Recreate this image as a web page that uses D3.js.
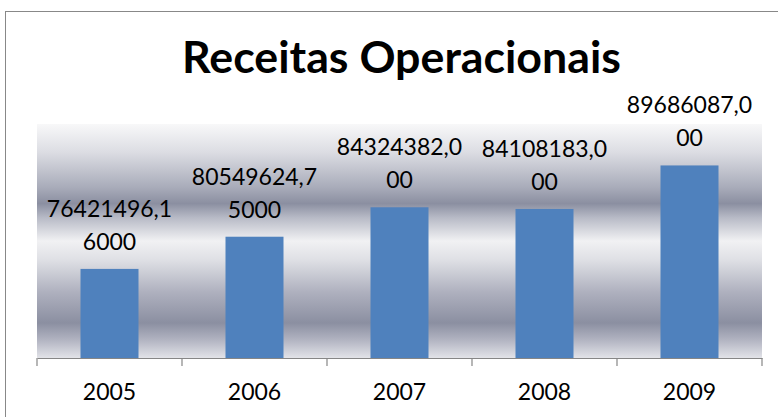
<!DOCTYPE html>
<html>
<head>
<meta charset="utf-8">
<script src="https://cdn.jsdelivr.net/npm/d3@7"></script>
<style>
  html, body { margin: 0; padding: 0; background: #fff; }
  svg { display: block; }
</style>
</head>
<body>
<svg id="chart" width="778" height="417"></svg>
<script>
const title = "Receitas Operacionais";
const categories = ["2005", "2006", "2007", "2008", "2009"];
const values = [76421496.16, 80549624.75, 84324382.0, 84108183.0, 89686087.0];
const valueLabels = ["76421496,16000", "80549624,75000", "84324382,000", "84108183,000", "89686087,000"];
const yDomain = [65000000, 95000000];

const svg = d3.select("#chart");
const W = 778, H = 417;
const plot = { left: 37, right: 762, top: 124, bottom: 358 };
const font = "Lato, 'Open Sans', sans-serif";

// chart frame
svg.append("rect").attr("x", 5.5).attr("y", 11.5).attr("width", 820).attr("height", 440)
  .attr("fill", "#fff").attr("stroke", "#888").attr("stroke-width", 1);

// gradient background
const defs = svg.append("defs");
const g = defs.append("linearGradient").attr("id", "bg").attr("x1", 0).attr("y1", 0).attr("x2", 0).attr("y2", 1);
[[0, "#f8f8f9"], [0.12, "#dcdde3"], [0.27, "#a9acba"], [0.34, "#8b8fa1"], [0.40, "#b7bac6"],
 [0.50, "#f1f1f3"], [0.58, "#dfe0e5"], [0.72, "#aeb0be"], [0.85, "#8b8fa1"], [0.92, "#b0b2c0"], [1, "#e2e3e8"]]
  .forEach(([o, c]) => g.append("stop").attr("offset", o).attr("stop-color", c));

svg.append("rect").attr("x", plot.left).attr("y", plot.top)
  .attr("width", plot.right - plot.left).attr("height", plot.bottom - plot.top)
  .attr("fill", "url(#bg)");

const x = d3.scaleBand().domain(categories).range([plot.left, plot.right])
  .paddingInner(0.6).paddingOuter(0.3);
const y = d3.scaleLinear().domain(yDomain).range([plot.bottom, plot.top]);

// bars
svg.append("g").selectAll("rect").data(values).join("rect")
  .attr("x", (d, i) => x(categories[i]))
  .attr("y", d => y(d))
  .attr("width", x.bandwidth())
  .attr("height", d => y(yDomain[0]) - y(d))
  .attr("fill", "#4f81bd");

// axis
const axisG = svg.append("g").attr("transform", `translate(0,${plot.bottom})`)
  .call(d3.axisBottom(x).tickSize(0).tickPadding(26));
axisG.select(".domain").attr("stroke", "#868686").attr("stroke-width", 1.2);
axisG.selectAll(".tick text").attr("font-family", font).attr("font-size", 23).attr("fill", "#000");
const gap = (x.step() - x.bandwidth()) / 2;
const bounds = categories.map(c => x(c) - gap).concat([x(categories[categories.length - 1]) + x.bandwidth() + gap]);
axisG.selectAll(".bound").data(bounds).join("line").attr("class", "bound")
  .attr("x1", d => d).attr("x2", d => d).attr("y1", 0).attr("y2", 8)
  .attr("stroke", "#868686").attr("stroke-width", 1.2);

// data labels (wrapped at 10 characters)
const lbl = svg.append("g").attr("font-family", font).attr("font-size", 23).attr("fill", "#000")
  .attr("text-anchor", "middle");
valueLabels.forEach((s, i) => {
  const cx = x(categories[i]) + x.bandwidth() / 2;
  const l1 = s.slice(0, 10), l2 = s.slice(10);
  const base2 = y(values[i]) - 19;
  lbl.append("text").attr("x", cx).attr("y", base2 - 33).text(l1);
  lbl.append("text").attr("x", cx).attr("y", base2).text(l2);
});

// title
const t = svg.append("text").attr("x", 401.5).attr("y", 73).attr("text-anchor", "middle")
  .attr("font-family", font).attr("font-weight", "bold").attr("font-size", 38).attr("fill", "#000")
  .text(title);
const tw = t.node().getComputedTextLength();
t.attr("font-size", 38 * 439 / tw);
</script>
</body>
</html>
